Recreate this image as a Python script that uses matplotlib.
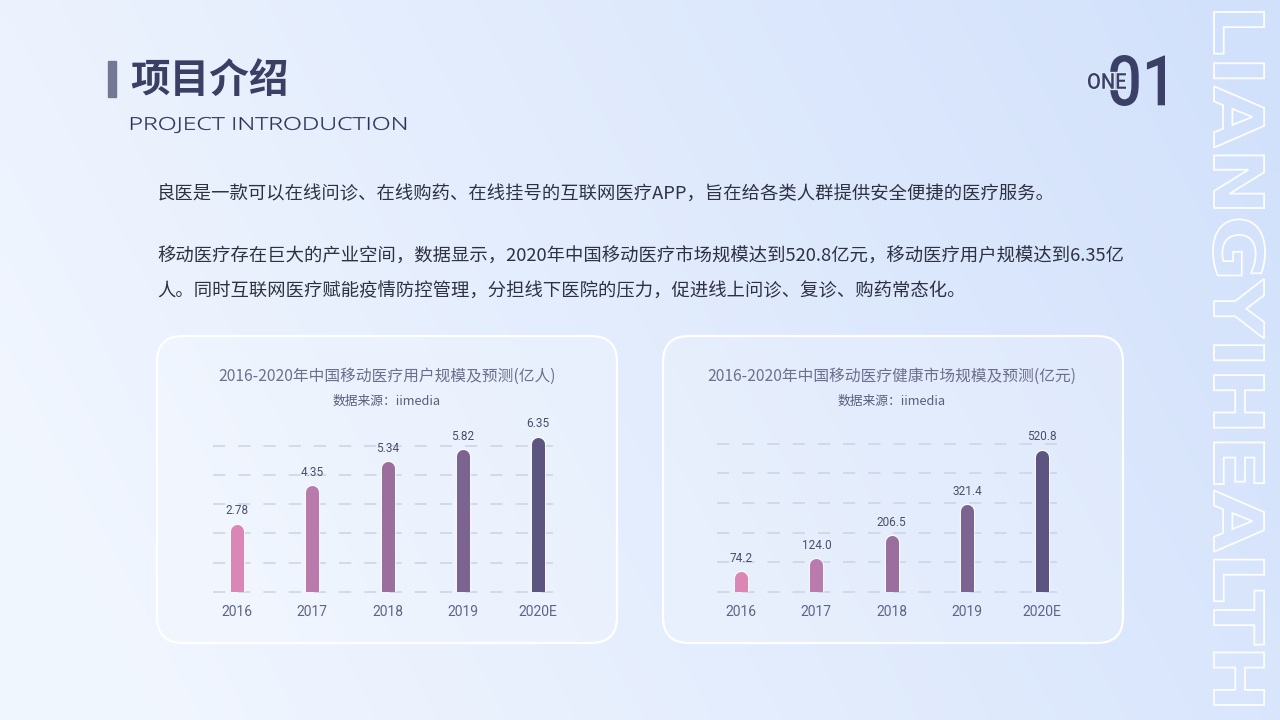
import numpy as np
import matplotlib
matplotlib.use("Agg")
import matplotlib.pyplot as plt
from matplotlib.patches import FancyBboxPatch, PathPatch, Rectangle
from matplotlib.textpath import TextPath
from matplotlib.font_manager import FontProperties
from matplotlib.transforms import Affine2D

plt.rcParams['font.family'] = ['Noto Sans CJK SC', 'DejaVu Sans']

# data
years = ['2016', '2017', '2018', '2019', '2020E']
users = [2.78, 4.35, 5.34, 5.82, 6.35]          # 亿人
market = [74.2, 124.0, 206.5, 321.4, 520.8]     # 亿元
bar_colors = ['#DB87B6', '#B97BAB', '#9A6E9D', '#7B6590', '#5C5580']

title_cn = '项目介绍'
title_en = 'PROJECT INTRODUCTION'
para1 = '良医是一款可以在线问诊、在线购药、在线挂号的互联网医疗APP，旨在给各类人群提供安全便捷的医疗服务。'
para2 = ['移动医疗存在巨大的产业空间，数据显示，2020年中国移动医疗市场规模达到520.8亿元，移动医疗用户规模达到6.35亿',
         '人。同时互联网医疗赋能疫情防控管理，分担线下医院的压力，促进线上问诊、复诊、购药常态化。']
chart1_title = '2016-2020年中国移动医疗用户规模及预测(亿人)'
chart2_title = '2016-2020年中国移动医疗健康市场规模及预测(亿元)'
source = '数据来源：iimedia'

W, H = 1280, 720
fig = plt.figure(figsize=(12.8, 7.2), dpi=100)
bg = fig.add_axes([0, 0, 1, 1])
bg.set_xlim(0, W)
bg.set_ylim(H, 0)
bg.axis('off')

# background gradient
xx, yy = np.meshgrid(np.linspace(0, 1, 128), np.linspace(0, 1, 72))
t = np.clip(0.85 * xx + 0.25 * (1 - yy) - 0.1, 0, 1)[..., None]
c0 = np.array([0.945, 0.965, 0.998])
c1 = np.array([0.820, 0.880, 0.985])
bg.imshow(c0 * (1 - t) + c1 * t, extent=(0, W, H, 0), aspect='auto',
          interpolation='bilinear', zorder=0)


def fit_text(s, box, prop, rotate=False, **kw):
    p = TextPath((0, 0), s, size=100, prop=prop)
    e = p.get_extents()
    x0, y0, x1, y1 = box
    if rotate:
        su = (y1 - y0) / e.width
        sv = (x1 - x0) / e.height
        tr = (Affine2D().translate(-e.x0, -e.y0).scale(su, sv)
              + Affine2D(np.array([[0, 1, 0], [1, 0, 0], [0, 0, 1]], float))
              + Affine2D().translate(x0, y0))
    else:
        sx = (x1 - x0) / e.width
        sy = (y1 - y0) / e.height
        tr = Affine2D().translate(-e.x0, -e.y0).scale(sx, -sy).translate(x0, y1)
    patch = PathPatch(tr.transform_path(p), **kw)
    bg.add_patch(patch)
    return patch


# vertical outlined watermark
fit_text('LIANGYIHEALTH', (1213, 12, 1265, 705),
         FontProperties(family='DejaVu Sans', weight='bold'), rotate=True,
         facecolor='none', edgecolor='white', lw=1.3, alpha=0.95, zorder=2)

# ONE 01
num_font = FontProperties(family='Roboto', weight='medium')
fit_text('01', (1110, 55, 1165, 106), num_font,
         facecolor='#3B4066', edgecolor='none', zorder=3)
fit_text('ONE', (1088, 73, 1126, 89), num_font,
         facecolor='#DCE7FC', edgecolor='#DCE7FC', lw=2.0, zorder=4)
fit_text('ONE', (1088, 73, 1126, 89), num_font,
         facecolor='#3B4066', edgecolor='none', zorder=5)

# header
bg.add_patch(Rectangle((108, 61), 8, 36, color='#737893', zorder=3))
bg.text(130, 80, title_cn, fontsize=28.5, fontweight='bold', color='#3A3F63',
        va='center', ha='left', zorder=3)
fit_text(title_en, (131, 117, 406, 133), FontProperties(family='Open Sans', weight='light'),
         facecolor='#2A2F55', edgecolor='#2A2F55', lw=0.2, zorder=3)

# paragraphs
body_kw = dict(fontsize=13.2, color='#2E3142', va='center', ha='left', zorder=3)
bg.text(157, 195, para1, **body_kw)
bg.text(157, 257, para2[0], **body_kw)
bg.text(157, 292, para2[1], **body_kw)

# cards
for cx in (157, 663):
    bg.add_patch(FancyBboxPatch((cx, 336), 460, 307,
                                boxstyle='round,pad=0,rounding_size=26',
                                facecolor=(1, 1, 1, 0.18), edgecolor='white',
                                lw=1.6, zorder=1))


def draw_chart(left_px, center_px, values, ymax, step, fmt, title):
    ax = fig.add_axes([left_px / W, (H - 592) / H, 350 / W, 162 / H])
    ax.set_xlim(-0.32, 4.33)
    ax.set_ylim(0, ymax)
    ax.patch.set_alpha(0)
    for s in ax.spines.values():
        s.set_visible(False)
    ax.set_yticks([])
    ppu = 162 / ymax
    for g in np.arange(6) * step:
        ax.axhline(g, color='#CBD3E4', lw=1.1, dashes=(8, 8.5), clip_on=False, zorder=1)
    half = 6.5 / ppu
    for i, v in enumerate(values):
        ax.plot([i, i], [-2 * half, v - half], color='white', lw=11.0,
                solid_capstyle='round', alpha=0.8, zorder=2)
        ax.plot([i, i], [-2 * half, v - half], color=bar_colors[i], lw=9.4,
                solid_capstyle='round', zorder=3)
        ax.annotate(fmt.format(v), (i, v), xytext=(0, 9.5), textcoords='offset points',
                    ha='center', va='center', fontsize=8.5, color='#4A4E6C',
                    family='Roboto', annotation_clip=False)
    ax.set_xticks(range(len(years)))
    ax.set_xticklabels(years, family='Roboto', fontsize=10, color='#5F6386')
    ax.tick_params(axis='x', length=0, pad=9.5)
    bg.text(center_px, 376, title, fontsize=11.3, color='#6C6F8E', ha='center', va='center')
    bg.text(center_px, 401, source, fontsize=9.2, color='#5A5D7C', ha='center', va='center')
    return ax


draw_chart(213, 387, users, 162 / 24.4, 1.2, '{:.2f}', chart1_title)
draw_chart(717, 892, market, 162 / 0.2725, 108.8, '{:.1f}', chart2_title)

fig.savefig('out.png', dpi=100)
